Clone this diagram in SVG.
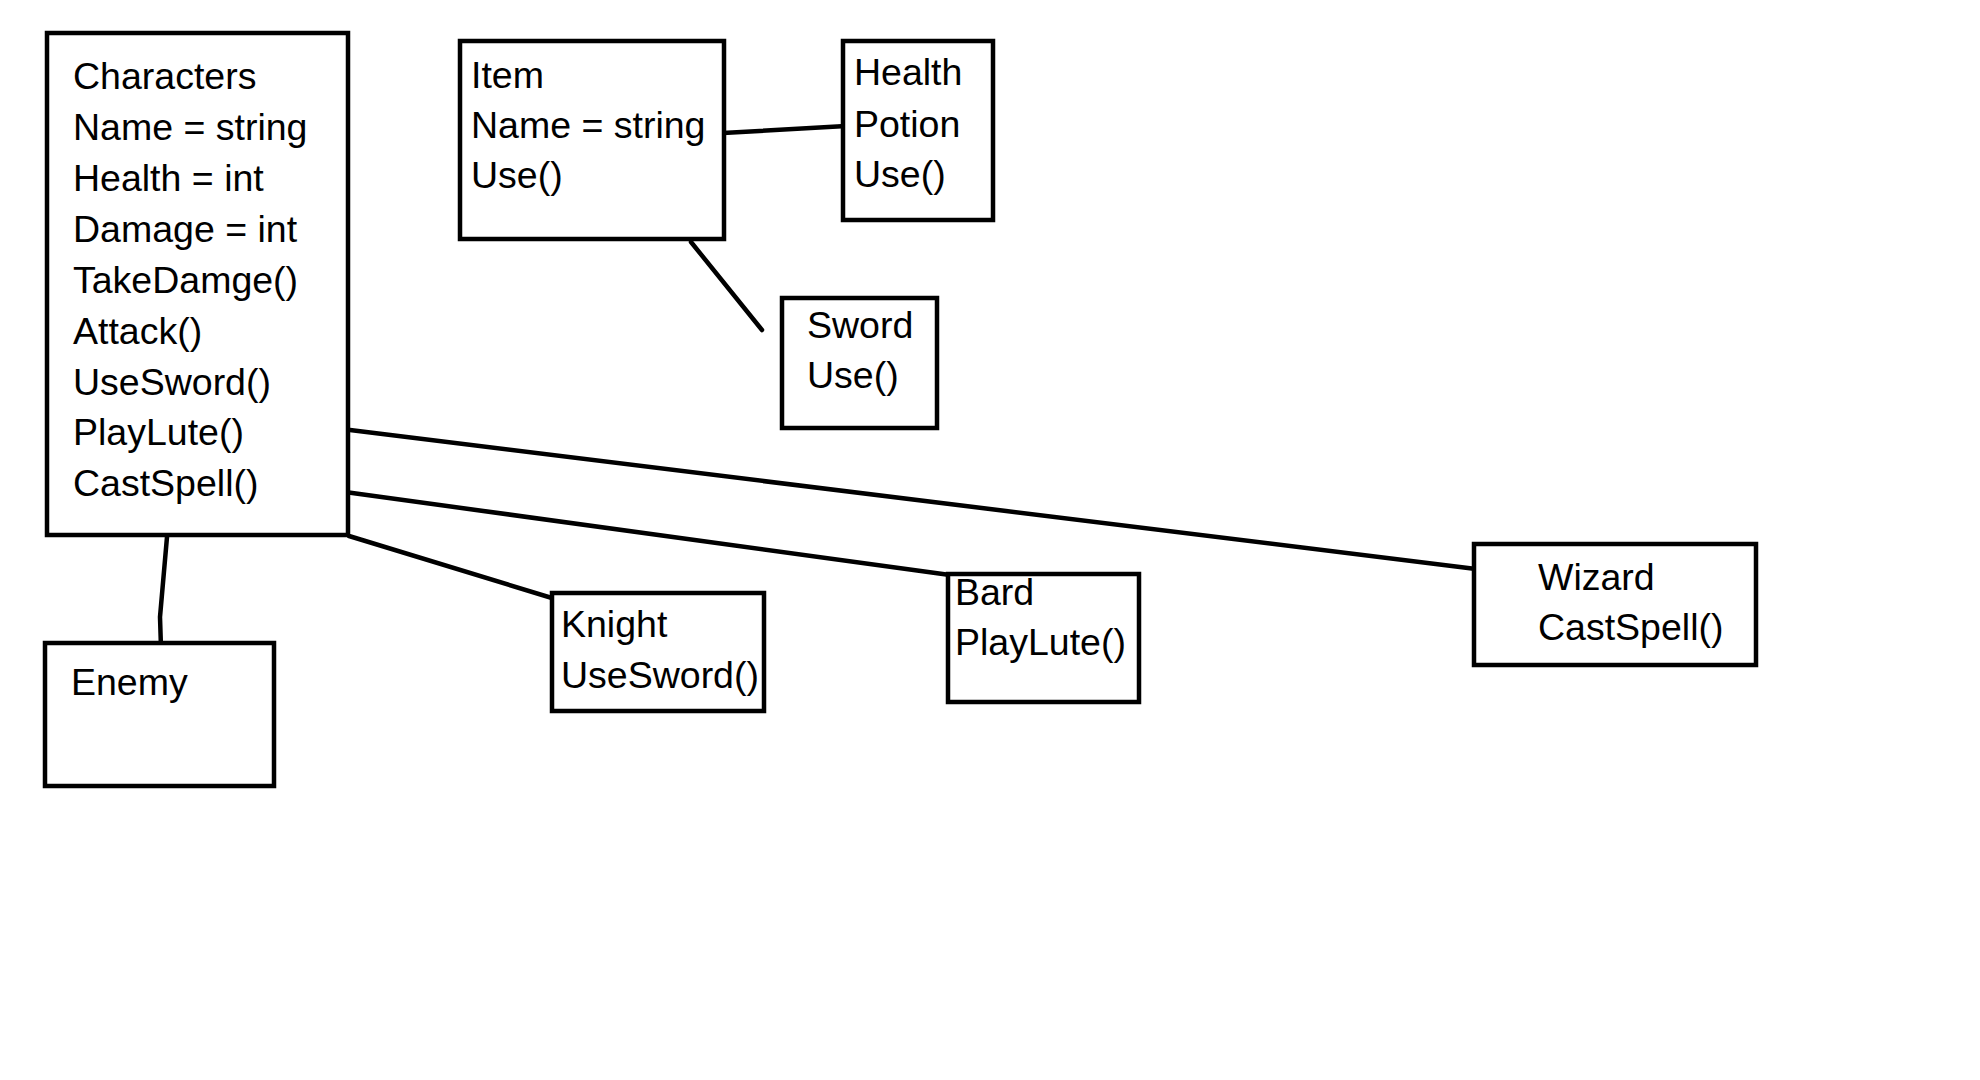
<svg xmlns="http://www.w3.org/2000/svg" width="1980" height="1080" viewBox="0 0 1980 1080">
<style>
  .box { fill: #ffffff; stroke: #000000; stroke-width: 4.5; }
  .lbl { font-family: "Liberation Sans", Arial, sans-serif; font-size: 37.5px; fill: #000000; }
  .conn { fill: none; stroke: #000000; stroke-width: 4.5; stroke-linecap: round; stroke-linejoin: round; }
</style>
<rect x="0" y="0" width="1980" height="1080" fill="#ffffff"/>
<g id="connectors">
  <line class="conn" x1="723" y1="133" x2="846" y2="126"/>
  <line class="conn" x1="691" y1="242" x2="762" y2="330"/>
  <line class="conn" x1="350" y1="430" x2="1476" y2="569"/>
  <line class="conn" x1="345" y1="492" x2="950" y2="575"/>
  <line class="conn" x1="349" y1="536" x2="565" y2="602"/>
  <polyline class="conn" points="167,537 160,617 161,648"/>
</g>
<g id="characters">
  <rect class="box" x="47" y="33" width="301" height="502"/>
  <text class="lbl" x="73" y="89">Characters</text>
  <text class="lbl" x="73" y="140">Name = string</text>
  <text class="lbl" x="73" y="191">Health = int</text>
  <text class="lbl" x="73" y="242">Damage = int</text>
  <text class="lbl" x="73" y="293">TakeDamge()</text>
  <text class="lbl" x="73" y="344">Attack()</text>
  <text class="lbl" x="73" y="395">UseSword()</text>
  <text class="lbl" x="73" y="445">PlayLute()</text>
  <text class="lbl" x="73" y="496">CastSpell()</text>
</g>
<g id="item">
  <rect class="box" x="460" y="41" width="264" height="198"/>
  <text class="lbl" x="471" y="88">Item</text>
  <text class="lbl" x="471" y="138">Name = string</text>
  <text class="lbl" x="471" y="188">Use()</text>
</g>
<g id="health-potion">
  <rect class="box" x="843" y="41" width="150" height="179"/>
  <text class="lbl" x="854" y="85">Health</text>
  <text class="lbl" x="854" y="137">Potion</text>
  <text class="lbl" x="854" y="187">Use()</text>
</g>
<g id="sword">
  <rect class="box" x="782" y="298" width="155" height="130"/>
  <text class="lbl" x="807" y="338">Sword</text>
  <text class="lbl" x="807" y="388">Use()</text>
</g>
<g id="enemy">
  <rect class="box" x="45" y="643" width="229" height="143"/>
  <text class="lbl" x="71" y="695">Enemy</text>
</g>
<g id="knight">
  <rect class="box" x="552" y="593" width="212" height="118"/>
  <text class="lbl" x="561" y="637">Knight</text>
  <text class="lbl" x="561" y="688">UseSword()</text>
</g>
<g id="bard">
  <rect class="box" x="948" y="574" width="191" height="128"/>
  <text class="lbl" x="955" y="605">Bard</text>
  <text class="lbl" x="955" y="655">PlayLute()</text>
</g>
<g id="wizard">
  <rect class="box" x="1474" y="544" width="282" height="121"/>
  <text class="lbl" x="1538" y="590">Wizard</text>
  <text class="lbl" x="1538" y="640">CastSpell()</text>
</g>
</svg>
